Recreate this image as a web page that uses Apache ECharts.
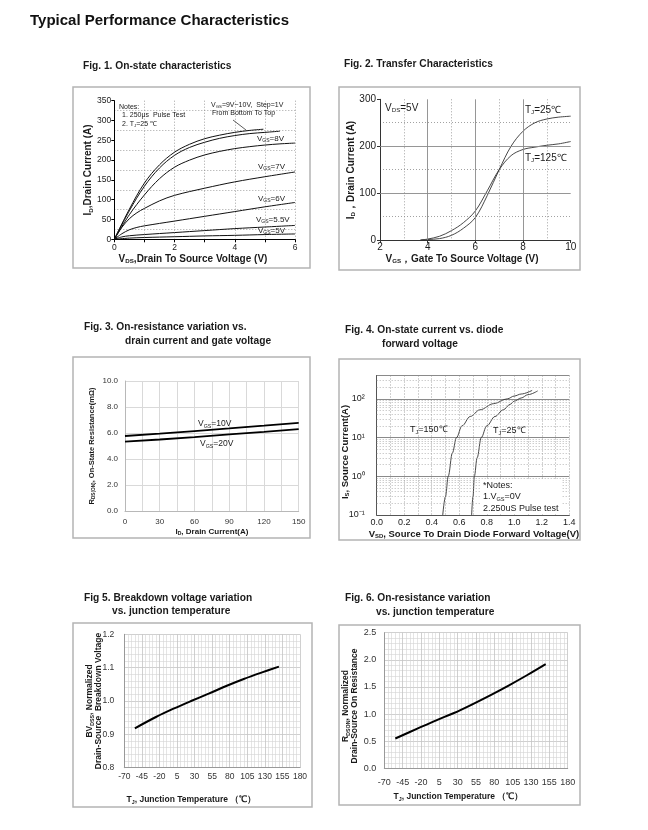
<!DOCTYPE html>
<html><head><meta charset="utf-8">
<script src="https://cdn.jsdelivr.net/npm/echarts@6/dist/echarts.min.js"></script>
<style>html,body{margin:0;padding:0;background:#fff}#c{width:648px;height:830px}</style>
</head><body><div id="c"></div>
<script>
// ---------- DATA ----------
// Fig 1: On-state characteristics  [VDS (V), ID (A)]
const f1_10V = [[0,0],[0.5,76],[1,142],[1.5,188],[2,220],[2.5,240],[3,254],[3.5,263],[4,270],[4.5,275],[4.95,278]];
const f1_9V  = [[0,0],[0.5,72],[1,134],[1.5,180],[2,212],[2.5,232],[3,245],[3.5,255],[4,262],[4.5,267],[5,270],[5.5,273]];
const f1_8V  = [[0,0],[0.5,62],[1,112],[1.5,153],[2,182],[2.5,200],[3,213],[3.5,222],[4,229],[4.5,234],[5,238],[5.5,241],[6,243]];
const f1_7V  = [[0,0],[0.25,30],[0.5,52],[0.75,67],[1,78],[1.5,97],[2,111],[3,129],[4,145],[5,158],[6,170]];
const f1_6V  = [[0,0],[0.25,14],[0.5,24],[0.75,30],[1,34],[2,46],[3,58],[4,70],[5,82],[6,93]];
const f1_55V = [[0,0],[0.25,6],[0.5,9],[1,12],[2,17],[3,22],[4,27],[5,31],[6,35]];
const f1_5V  = [[0,0],[0.5,3],[1,4.5],[2,6.5],[3,8.5],[4,10],[5,12],[6,13.5]];
// Fig 2: Transfer characteristics [VGS (V), ID (A)]
const f2_25C  = [[3.7,0],[4,1],[4.5,3],[5,10],[5.5,25],[6,48],[6.5,95],[7,150],[7.5,200],[8,232],[8.5,250],[9,258],[9.5,262],[10,264]];
const f2_125C = [[3.7,0],[4,2],[4.5,8],[5,20],[5.5,37],[6,62],[6.5,105],[7,150],[7.5,180],[8,193],[8.5,198],[9,202],[9.5,205],[10,210]];
const f2MajorX = [4,6,8];
const f2MajorY = [100,200];
// Fig 3: RDS(on) vs ID
const f3_ID   = [0,30,60,90,120,150];
const f3_10V  = [5.77,5.95,6.15,6.35,6.56,6.78];
const f3_20V  = [5.33,5.50,5.69,5.89,6.09,6.30];
// Fig 4: diode forward [VSD (V), IS (A)]
const f4_150C = [[0.48,0.1],[0.5,0.3],[0.52,1],[0.55,4],[0.58,10],[0.62,20],[0.68,35],[0.75,52],[0.85,75],[0.95,100],[1.0,118],[1.05,133],[1.13,165]];
const f4_25C  = [[0.69,0.1],[0.70,0.3],[0.71,1],[0.73,3],[0.76,10],[0.80,20],[0.86,35],[0.92,52],[0.97,72],[1.0,87],[1.05,105],[1.1,128],[1.17,160]];
const f4Minor = [0.2,0.3,0.4,0.5,0.6,0.7,0.8,0.9,2,3,4,5,6,7,8,9,20,30,40,50,60,70,80,90,200,300];
// Fig 5 & 6: vs junction temperature
const f56_T   = [-55,-25,0,25,50,75,100,125,150];
const f5_BV   = [0.918,0.952,0.977,1.0,1.022,1.045,1.066,1.085,1.103];
const f6_RDS  = [0.55,0.73,0.88,1.02,1.18,1.35,1.53,1.72,1.92];

// ---------- HELPERS ----------
const FF = '"Liberation Sans", Arial, Helvetica, sans-serif';
const zip = (xs, ys) => xs.map((x, i) => [x, ys[i]]);
function T(x, y, parts, o) {
  o = o || {};
  const size = o.size || 9, weight = o.weight || 'normal', color = o.color || '#1a1a1a';
  const fam = o.family || FF;
  if (typeof parts === 'string') parts = [[parts, 0]];
  let str = '';
  parts.forEach(p => { str += '{' + (p[1] ? 's' : 'n') + '|' + p[0] + '}'; });
  return {
    type: 'text', x: x, y: y, rotation: o.rot || 0, silent: true, z: 100,
    style: {
      text: str, align: o.align || 'left', verticalAlign: 'middle',
      fontSize: size, fontFamily: fam, fontWeight: weight, fill: color,
      rich: {
        n: { fontSize: size, fontFamily: fam, fontWeight: weight, fill: color },
        s: { fontSize: Math.round(size * 0.62 * 10) / 10, fontFamily: fam, fontWeight: weight, fill: color, padding: [size * 0.5, 0, 0, 0] }
      }
    }
  };
}
function box(x1, y1, x2, y2) {
  return { type: 'rect', silent: true, z: 1, shape: { x: x1, y: y1, width: x2 - x1, height: y2 - y1 }, style: { fill: 'none', stroke: '#b4b4b4', lineWidth: 1.5 } };
}
const dotted = (c, w) => ({ color: c, type: [1, 2], width: w || 0.8 });
const lbl = (size, margin, fmt, color) => ({ fontSize: size, margin: margin, color: color || '#1a1a1a', fontFamily: FF, formatter: fmt });
const mk = (vals, key, style) => ({ silent: true, symbol: 'none', animation: false, label: { show: false }, lineStyle: style, data: vals.map(v => ({ [key]: v })) });
const line = (idx, data, color, width, extra) => Object.assign({ type: 'line', xAxisIndex: idx, yAxisIndex: idx, data: data, showSymbol: false, symbol: 'none', smooth: 0.35, animation: false, silent: true, lineStyle: { color: color, width: width } }, extra || {});
const sup = { '-1': '10⁻¹', '0': '10⁰', '1': '10¹', '2': '10²' };
const AL = (c) => ({ show: true, onZero: false, lineStyle: { color: c, width: 1 } });

// ---------- GRIDS ----------
const grids = [
  { left: 114.3, top: 100.7, width: 180.7, height: 138.6 },
  { left: 380, top: 99.3, width: 190.7, height: 140.7 },
  { left: 125, top: 381, width: 173.7, height: 130 },
  { left: 376.7, top: 375.5, width: 192.6, height: 139.5 },
  { left: 124.3, top: 634.3, width: 175.7, height: 133.4 },
  { left: 384.3, top: 632.7, width: 183.4, height: 135.6 }
];

const xAxes = [
  { gridIndex: 0, type: 'value', min: 0, max: 6, interval: 1,
    axisLine: AL('#000'), axisTick: { length: 3, lineStyle: { color: '#000' } },
    axisLabel: lbl(8.5, 4, v => (v % 2 === 0 ? String(v) : '')),
    splitLine: { show: true, lineStyle: dotted('#8a8a8a') } },
  { gridIndex: 1, type: 'value', min: 2, max: 10, interval: 2,
    axisLine: AL('#333'), axisTick: { length: 3, lineStyle: { color: '#333' } },
    axisLabel: lbl(10, 2, v => String(v)),
    splitLine: { show: false }, minorTick: { show: false, splitNumber: 2 },
    minorSplitLine: { show: true, lineStyle: dotted('#8a8a8a') } },
  { gridIndex: 2, type: 'value', min: 0, max: 150, interval: 15,
    axisLine: AL('#b8b8b8'), axisTick: { show: false },
    axisLabel: lbl(8, 7, v => (v % 30 === 0 ? String(v) : ''), '#333'),
    splitLine: { show: true, lineStyle: { color: '#d9d9d9', width: 1 } } },
  { gridIndex: 3, type: 'value', min: 0, max: 1.4, interval: 0.1,
    axisLine: AL('#555'), axisTick: { show: false },
    axisLabel: lbl(9, 3, v => (Math.round(v * 10) % 2 === 0 ? v.toFixed(1) : '')),
    splitLine: { show: true, lineStyle: dotted('#8a8a8a') } },
  { gridIndex: 4, type: 'value', min: -70, max: 180, interval: 25,
    axisLine: AL('#999'), axisTick: { show: false },
    axisLabel: lbl(8.5, 4, v => String(v), '#333'),
    splitLine: { show: true, lineStyle: { color: '#c4c4c4', width: 0.8 } },
    minorTick: { show: false, splitNumber: 5 }, minorSplitLine: { show: true, lineStyle: { color: '#d4d4d4', width: 0.6 } } },
  { gridIndex: 5, type: 'value', min: -70, max: 180, interval: 25,
    axisLine: AL('#999'), axisTick: { show: false },
    axisLabel: lbl(9, 10, v => String(v), '#333'),
    splitLine: { show: true, lineStyle: { color: '#c4c4c4', width: 0.8 } },
    minorTick: { show: false, splitNumber: 5 }, minorSplitLine: { show: true, lineStyle: { color: '#d4d4d4', width: 0.6 } } }
];

const yAxes = [
  { gridIndex: 0, type: 'value', min: 0, max: 350, interval: 50,
    axisLine: AL('#000'), axisTick: { show: true, length: 3, lineStyle: { color: '#000' } },
    axisLabel: lbl(8.5, 3, v => String(v)),
    splitLine: { show: false }, minorTick: { show: false, splitNumber: 2 },
    minorSplitLine: { show: true, lineStyle: dotted('#8a8a8a') } },
  { gridIndex: 1, type: 'value', min: 0, max: 300, interval: 100,
    axisLine: AL('#333'), axisTick: { show: true, length: 3, lineStyle: { color: '#333' } },
    axisLabel: lbl(10, 4, v => String(v)),
    splitLine: { show: false }, minorTick: { show: false, splitNumber: 2 },
    minorSplitLine: { show: true, lineStyle: dotted('#8a8a8a') } },
  { gridIndex: 2, type: 'value', min: 0, max: 10, interval: 2,
    axisLine: AL('#b8b8b8'), axisTick: { show: false },
    axisLabel: lbl(8, 7, v => v.toFixed(1), '#333'),
    splitLine: { show: true, lineStyle: { color: '#d9d9d9', width: 1 } } },
  { gridIndex: 3, type: 'log', logBase: 10, min: 0.1, max: 400, splitNumber: 4,
    axisLine: AL('#555'), axisTick: { show: false },
    axisLabel: lbl(9, 12, v => { const e = Math.round(Math.log10(v)); return Math.abs(Math.log10(v) - e) < 1e-6 && sup[String(e)] ? sup[String(e)] : ''; }),
    splitLine: { show: true, lineStyle: { color: '#8a8a8a', width: 1 } } },
  { gridIndex: 4, type: 'value', min: 0.8, max: 1.2, interval: 0.1,
    axisLine: AL('#999'), axisTick: { show: false },
    axisLabel: lbl(8.5, 10, v => v.toFixed(1), '#333'),
    splitLine: { show: true, lineStyle: { color: '#c4c4c4', width: 0.8 } },
    minorTick: { show: false, splitNumber: 5 }, minorSplitLine: { show: true, lineStyle: { color: '#d4d4d4', width: 0.6 } } },
  { gridIndex: 5, type: 'value', min: 0, max: 2.5, interval: 0.5,
    axisLine: AL('#999'), axisTick: { show: false },
    axisLabel: lbl(9, 8, v => v.toFixed(1), '#333'),
    splitLine: { show: true, lineStyle: { color: '#c4c4c4', width: 0.8 } },
    minorTick: { show: false, splitNumber: 5 }, minorSplitLine: { show: true, lineStyle: { color: '#d4d4d4', width: 0.6 } } }
];

// ---------- SERIES ----------
const series = [
  line(0, f1_10V, '#111', 1), line(0, f1_9V, '#111', 1), line(0, f1_8V, '#111', 1),
  line(0, f1_7V, '#111', 1), line(0, f1_6V, '#111', 1), line(0, f1_55V, '#111', 1), line(0, f1_5V, '#111', 1),
  line(1, f2_25C, '#333', 0.9, { markLine: mk(f2MajorX, 'xAxis', { color: '#8a8a8a', type: 'solid', width: 0.9 }) }),
  line(1, f2_125C, '#333', 0.9, { markLine: mk(f2MajorY, 'yAxis', { color: '#8a8a8a', type: 'solid', width: 0.9 }) }),
  line(2, zip(f3_ID, f3_10V), '#000', 1.8, { smooth: false }),
  line(2, zip(f3_ID, f3_20V), '#000', 1.8, { smooth: false }),
  line(3, f4_150C, '#333', 0.9, { smoothMonotone: 'x', markLine: mk(f4Minor, 'yAxis', dotted('#9a9a9a', 0.7)) }),
  line(3, f4_25C, '#333', 0.9, { smoothMonotone: 'x' }),
  line(4, zip(f56_T, f5_BV), '#000', 2),
  line(5, zip(f56_T, f6_RDS), '#000', 2)
];

// ---------- TEXT / FRAMES ----------
const B = 'bold';
const graphics = [
  box(73, 87, 310, 268), box(339, 87, 580, 270), box(73, 357, 310, 538),
  box(339, 359, 580, 540), box(73, 623, 312, 807), box(339, 625, 580, 805),
  T(30, 21, 'Typical Performance Characteristics', { size: 15, weight: B, color: '#111' }),
  T(83, 66, 'Fig. 1. On-state characteristics', { size: 10.2, weight: B }),
  T(344, 64, 'Fig. 2. Transfer Characteristics', { size: 10.2, weight: B }),
  T(84, 327, 'Fig. 3. On-resistance variation vs.', { size: 10.2, weight: B }),
  T(125, 341, 'drain current and gate voltage', { size: 10.2, weight: B }),
  T(345, 330, 'Fig. 4. On-state current vs. diode', { size: 10.2, weight: B }),
  T(382, 344, 'forward voltage', { size: 10.2, weight: B }),
  T(84, 598, 'Fig 5. Breakdown voltage variation', { size: 10.2, weight: B }),
  T(112, 611, 'vs. junction temperature', { size: 10.2, weight: B }),
  T(345, 598, 'Fig. 6. On-resistance variation', { size: 10.2, weight: B }),
  T(376, 612, 'vs. junction temperature', { size: 10.2, weight: B }),
  // Fig 1
  T(88.5, 170, [['I', 0], ['D', 1], [',Drain Current (A)', 0]], { size: 10, weight: B, rot: Math.PI / 2, align: 'center' }),
  T(193, 259, [['V', 0], ['DS', 1], [',Drain To Source Voltage (V)', 0]], { size: 10, weight: B, align: 'center' }),
  T(119, 107, 'Notes:', { size: 7 }),
  T(122, 115.5, '1. 250μs  Pulse Test', { size: 7 }),
  T(122, 124, [['2. T', 0], ['J', 1], ['=25 ℃', 0]], { size: 7 }),
  T(211, 105, [['V', 0], ['GS', 1], ['=9V~10V,  Step=1V', 0]], { size: 7 }),
  T(212, 113, 'From Bottom To Top', { size: 7 }),
  { type: 'line', silent: true, z: 100, shape: { x1: 233, y1: 120, x2: 246, y2: 130 }, style: { stroke: '#333', lineWidth: 0.8 } },
  T(257, 139, [['V', 0], ['GS', 1], ['=8V', 0]], { size: 8 }),
  T(258, 166.5, [['V', 0], ['GS', 1], ['=7V', 0]], { size: 8 }),
  T(258, 198.5, [['V', 0], ['GS', 1], ['=6V', 0]], { size: 8 }),
  T(256, 219.5, [['V', 0], ['GS', 1], ['=5.5V', 0]], { size: 8 }),
  T(258, 230.5, [['V', 0], ['GS', 1], ['=5V', 0]], { size: 8 }),
  // Fig 2
  T(351, 170, [['I', 0], ['D', 1], ['，Drain Current (A)', 0]], { size: 10, weight: B, rot: Math.PI / 2, align: 'center' }),
  T(462, 259, [['V', 0], ['GS', 1], ['，Gate To Source Voltage (V)', 0]], { size: 10, weight: B, align: 'center' }),
  T(385, 108, [['V', 0], ['DS', 1], ['=5V', 0]], { size: 10 }),
  T(525, 110, [['T', 0], ['J', 1], ['=25℃', 0]], { size: 10 }),
  T(525, 158, [['T', 0], ['J', 1], ['=125℃', 0]], { size: 10 }),
  // Fig 3
  T(91.5, 446, [['R', 0], ['DS(ON)', 1], [', On-State Resistance(mΩ)', 0]], { size: 7.5, weight: B, rot: Math.PI / 2, align: 'center' }),
  T(212, 532, [['I', 0], ['D', 1], [', Drain Current(A)', 0]], { size: 8, weight: B, align: 'center' }),
  T(198, 424, [['V', 0], ['GS', 1], ['=10V', 0]], { size: 8.5 }),
  T(200, 444, [['V', 0], ['GS', 1], ['=20V', 0]], { size: 8.5 }),
  // Fig 4
  T(345, 452, [['I', 0], ['S', 1], [', Source Current(A)', 0]], { size: 9.5, weight: B, rot: Math.PI / 2, align: 'center' }),
  T(474, 534, [['V', 0], ['SD', 1], [', Source To Drain Diode Forward Voltage(V)', 0]], { size: 9.5, weight: B, align: 'center' }),
  T(410, 430, [['T', 0], ['J', 1], ['=150℃', 0]], { size: 9 }),
  T(493, 431, [['T', 0], ['J', 1], ['=25℃', 0]], { size: 9 }),
  { type: 'rect', silent: true, z: 90, shape: { x: 481, y: 479, width: 80, height: 35 }, style: { fill: '#fff' } },
  T(483, 485.5, '*Notes:', { size: 9 }),
  T(483, 497, [['1.V', 0], ['GS', 1], ['=0V', 0]], { size: 9 }),
  T(483, 508.5, '2.250uS Pulse test', { size: 9 }),
  // Fig 5
  T(90, 701, [['BV', 0], ['DSS', 1], [', Normalized', 0]], { size: 8.5, weight: B, rot: Math.PI / 2, align: 'center' }),
  T(98.5, 701, 'Drain-Source  Breakdown Voltage', { size: 8.5, weight: B, rot: Math.PI / 2, align: 'center' }),
  T(191.5, 800, [['T', 0], ['J', 1], [', Junction Temperature （℃）', 0]], { size: 8.5, weight: B, align: 'center' }),
  // Fig 6
  T(346, 706, [['R', 0], ['DSON', 1], [', Normalized', 0]], { size: 8.5, weight: B, rot: Math.PI / 2, align: 'center' }),
  T(354.5, 706, 'Drain-Source On Resistance', { size: 8.5, weight: B, rot: Math.PI / 2, align: 'center' }),
  T(458.5, 797, [['T', 0], ['J', 1], [', Junction Temperature （℃）', 0]], { size: 8.5, weight: B, align: 'center' })
];

const chart = echarts.init(document.getElementById('c'), null, { renderer: 'canvas' });
chart.setOption({
  backgroundColor: '#fff',
  animation: false,
  textStyle: { fontFamily: FF },
  grid: grids,
  xAxis: xAxes,
  yAxis: yAxes,
  series: series,
  graphic: { elements: graphics }
});
</script>
</body></html>
